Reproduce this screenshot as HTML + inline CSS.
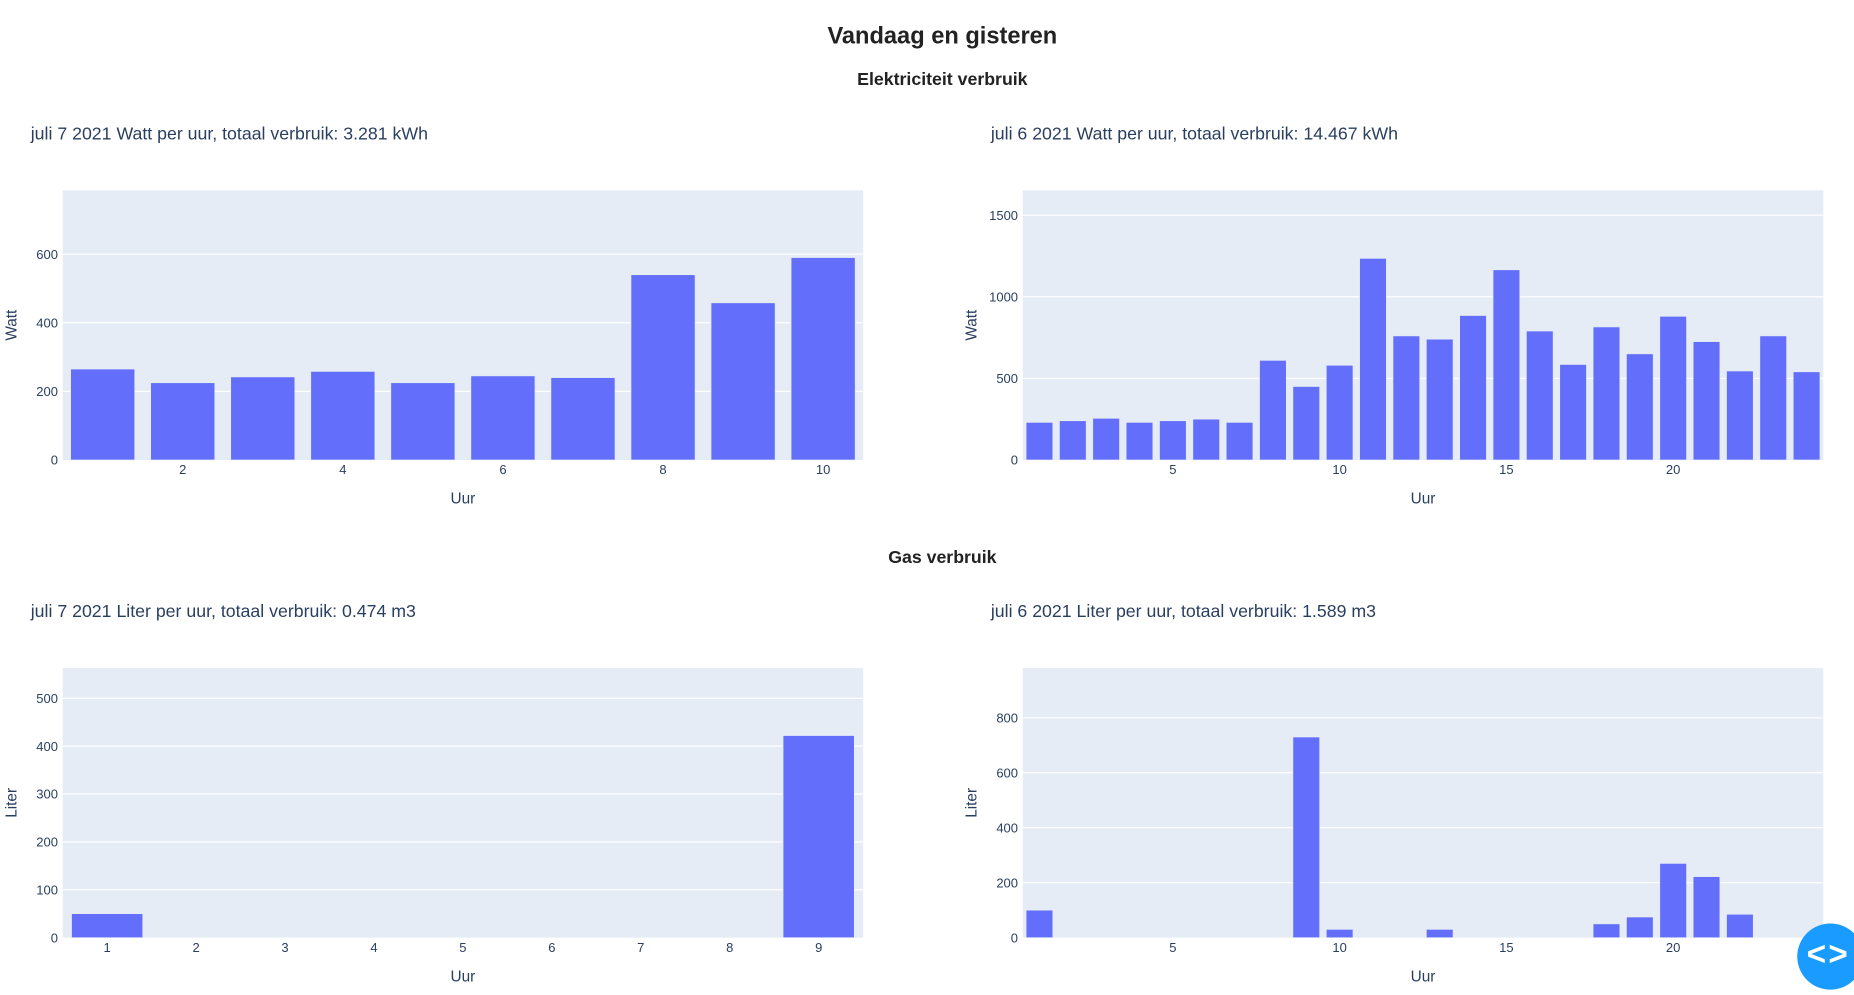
<!DOCTYPE html>
<html><head><meta charset="utf-8">
<style>
html,body{margin:0;padding:0;background:#fff;width:1854px;height:995px;overflow:hidden}
#wrap{width:1568px;height:842px;transform:scale(1.18240);transform-origin:0 0;position:relative}
svg text{font-family:"Liberation Sans",sans-serif}
</style></head>
<body>
<div id="wrap">
<svg id="svg" width="1568" height="842" xmlns="http://www.w3.org/2000/svg">
<text x="797" y="37" text-anchor="middle" font-size="20" font-weight="bold" fill="#222">Vandaag en gisteren</text>
<text x="797" y="72" text-anchor="middle" font-size="15" font-weight="bold" fill="#222">Elektriciteit verbruik</text>
<text x="797" y="476" text-anchor="middle" font-size="15" font-weight="bold" fill="#222">Gas verbruik</text>
</svg>
<div style="position:absolute;left:1520px;top:781px;width:56px;height:56px;border-radius:50%;background:#1a9bff;color:#fff;font:bold 28px 'Liberation Sans',sans-serif;line-height:52px;text-indent:8px;letter-spacing:2px">&lt;&gt;</div>
</div>
<script>
const elecTodayValues=[265,225,242,258,225,245,240,540,458,590];
const elecYesterdayValues=[230,240,255,230,240,250,230,610,450,580,1235,760,740,885,1165,790,585,815,650,880,725,545,760,540];
const gasTodayValues=[50,0,0,0,0,0,0,0,422];
const gasYesterdayValues=[100,0,0,0,0,0,0,0,730,30,0,0,30,0,0,0,0,50,75,270,222,85,0,0];
const elecTodayYTicks=[0,200,400,600];
const elecYesterdayYTicks=[0,500,1000,1500];
const gasTodayYTicks=[0,100,200,300,400,500];
const gasYesterdayYTicks=[0,200,400,600,800];
const elecTodayXTicks=[2,4,6,8,10];
const yesterdayXTicks=[5,10,15,20];
const gasTodayXTicks=[1,2,3,4,5,6,7,8,9];
const titles=["juli 7 2021 Watt per uur, totaal verbruik: 3.281 kWh","juli 6 2021 Watt per uur, totaal verbruik: 14.467 kWh","juli 7 2021 Liter per uur, totaal verbruik: 0.474 m3","juli 6 2021 Liter per uur, totaal verbruik: 1.589 m3"];

const NS="http://www.w3.org/2000/svg";
const svg=document.getElementById('svg');
function mk(tag,attrs,parent){const e=document.createElementNS(NS,tag);for(const k in attrs)e.setAttribute(k,attrs[k]);(parent||svg).appendChild(e);return e;}

function panel(px,py,values,ymax,yTicks,xTicks,title,ytitle,name){
  const W=677,H=228;
  const g=mk('g',{});
  
  
  const t=mk('text',{x:px-27,y:py-43,'font-size':15,fill:'#2a3f5f'},g);t.textContent=title;
  
  
  const bg=mk('rect',{x:px,y:py,width:W,height:H,fill:'#e5ecf6'},g);
  
  
  const n=values.length;
  const xs=h=>px+(h-0.5)/n*W;
  const ys=v=>py+H-v/ymax*H;
  yTicks.forEach(v=>{
    if(v>0){const l=mk('line',{x1:px,x2:px+W,y1:ys(v),y2:ys(v),stroke:'#fff','stroke-width':1},g);
    
    }
    const tx=mk('text',{x:px-4,y:ys(v)+4,'text-anchor':'end','font-size':11,fill:'#2a3f5f'},g);tx.textContent=v;
    
    
  });
  const bw=W/n*0.8;
  values.forEach((v,i)=>{
    if(v<=0)return;
    const b=mk('rect',{x:xs(i+1)-bw/2,y:ys(v),width:bw,height:ys(0)-ys(v),fill:'#636efa',stroke:'#e5ecf6','stroke-width':0.5},g);
    
    
  });
  xTicks.forEach(h=>{
    const tx=mk('text',{x:xs(h),y:py+H+12,'text-anchor':'middle','font-size':11,fill:'#2a3f5f'},g);tx.textContent=h;
    
    
  });
  const xt=mk('text',{x:px+W/2,y:py+H+37,'text-anchor':'middle','font-size':13,fill:'#2a3f5f'},g);xt.textContent='Uur';
  
  
  const cy=py+H/2;
  const yt=mk('text',{x:px-39,y:cy,'text-anchor':'middle','font-size':13,fill:'#2a3f5f',transform:`rotate(-90 ${px-39} ${cy})`},g);yt.textContent=ytitle;
  
  
}
panel(53,161,elecTodayValues,786,elecTodayYTicks,elecTodayXTicks,titles[0],'Watt','electricity-today-chart');
panel(865,161,elecYesterdayValues,1652,elecYesterdayYTicks,yesterdayXTicks,titles[1],'Watt','electricity-yesterday-chart');
panel(53,565,gasTodayValues,563,gasTodayYTicks,gasTodayXTicks,titles[2],'Liter','gas-today-chart');
panel(865,565,gasYesterdayValues,981,gasYesterdayYTicks,yesterdayXTicks,titles[3],'Liter','gas-yesterday-chart');
</script>
</body></html>
